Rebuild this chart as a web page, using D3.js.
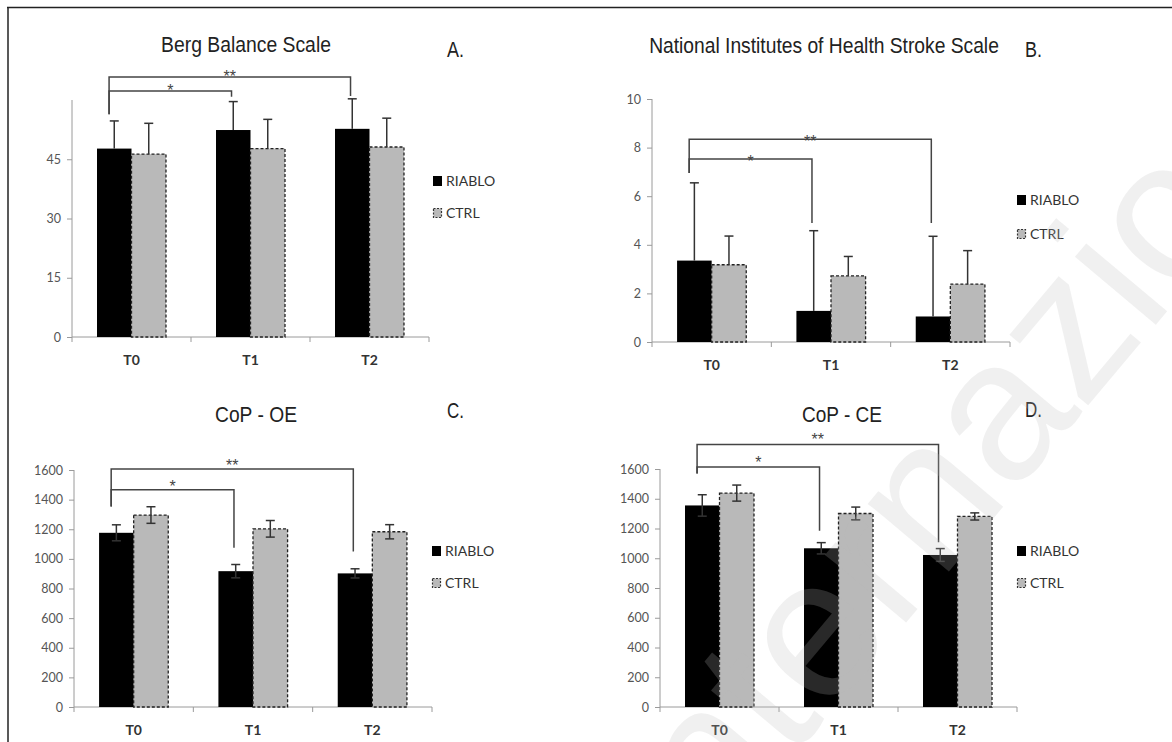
<!DOCTYPE html>
<html>
<head>
<meta charset="utf-8">
<script src="https://cdn.jsdelivr.net/npm/d3@7/dist/d3.min.js"></script>
<style>
  body { margin: 0; background: #fff; }
  svg text { font-family: "Lato", "Liberation Sans", sans-serif; }
</style>
</head>
<body>
<svg id="chart" width="1172" height="742"></svg>
<script>
// categories and series
const categories = ["T0", "T1", "T2"];
const seriesNames = ["RIABLO", "CTRL"];

// A. Berg Balance Scale (mean, upper error)
const bergRiablo = [47.7, 52.4, 52.7];
const bergRiabloErr = [7.0, 7.2, 7.6];
const bergCtrl = [46.3, 47.7, 48.1];
const bergCtrlErr = [7.8, 7.4, 7.3];
const bergTicks = [0, 15, 30, 45];

// B. NIHSS
const nihssRiablo = [3.35, 1.28, 1.05];
const nihssRiabloErr = [3.2, 3.3, 3.3];
const nihssCtrl = [3.18, 2.72, 2.38];
const nihssCtrlErr = [1.18, 0.8, 1.38];
const nihssTicks = [0, 2, 4, 6, 8, 10];

// C. CoP - OE
const oeRiablo = [1176, 917, 902];
const oeRiabloErr = [54, 45, 31];
const oeCtrl = [1296, 1203, 1183];
const oeCtrlErr = [56, 56, 48];

// D. CoP - CE
const ceRiablo = [1355, 1067, 1022];
const ceRiabloErr = [72, 38, 43];
const ceCtrl = [1438, 1301, 1281];
const ceCtrlErr = [54, 43, 24];
const copTicks = [0, 200, 400, 600, 800, 1000, 1200, 1400, 1600];

// significance brackets: target category, bracket level, leg ends (data units)
const bergSig = [
  { to: 1, level: 62.3, leftEnd: 56.4, rightEnd: 60.8, label: "*" },
  { to: 2, level: 65.8, leftEnd: 56.4, rightEnd: 61.0, label: "**" }
];
const nihssSig = [
  { to: 1, level: 7.53, leftEnd: 6.95, rightEnd: 4.9, label: "*" },
  { to: 2, level: 8.34, leftEnd: 6.95, rightEnd: 4.9, label: "**" }
];
const oeSig = [
  { to: 1, level: 1467, leftEnd: 1354, rightEnd: 1075, label: "*" },
  { to: 2, level: 1607, leftEnd: 1354, rightEnd: 1050, label: "**" }
];
const ceSig = [
  { to: 1, level: 1614, leftEnd: 1569, rightEnd: 1185, label: "*" },
  { to: 2, level: 1765, leftEnd: 1569, rightEnd: 1107, label: "**" }
];

const panels = [
  { title: "Berg Balance Scale", letter: "A.", riablo: bergRiablo, riabloErr: bergRiabloErr,
    ctrl: bergCtrl, ctrlErr: bergCtrlErr, twoSided: false, domain: [0, 60], ticks: bergTicks, sig: bergSig,
    x0: 72, x1: 429, yBase: 337, yTop: 100, titleX: 246, titleY: 52, titleW: 170,
    letterX: 447, letterY: 57, legX: 433, legY: [181, 213], starDy: 5 },
  { title: "National Institutes  of Health  Stroke Scale", letter: "B.", riablo: nihssRiablo, riabloErr: nihssRiabloErr,
    ctrl: nihssCtrl, ctrlErr: nihssCtrlErr, twoSided: false, domain: [0, 10], ticks: nihssTicks, sig: nihssSig,
    x0: 652, x1: 1010, yBase: 342, yTop: 99, titleX: 824, titleY: 53, titleW: 350,
    letterX: 1025, letterY: 57, legX: 1017, legY: [200, 234], starDy: 8 },
  { title: "CoP - OE", letter: "C.", riablo: oeRiablo, riabloErr: oeRiabloErr,
    ctrl: oeCtrl, ctrlErr: oeCtrlErr, twoSided: true, domain: [0, 1600], ticks: copTicks, sig: oeSig,
    x0: 74, x1: 432, yBase: 707, yTop: 470, titleX: 256, titleY: 422, titleW: 82,
    letterX: 447, letterY: 418, legX: 432, legY: [551, 583], starDy: 2 },
  { title: "CoP - CE", letter: "D.", riablo: ceRiablo, riabloErr: ceRiabloErr,
    ctrl: ceCtrl, ctrlErr: ceCtrlErr, twoSided: true, domain: [0, 1600], ticks: copTicks, sig: ceSig,
    x0: 660, x1: 1017, yBase: 707, yTop: 469, titleX: 842, titleY: 422, titleW: 80,
    letterX: 1025, letterY: 417, legX: 1017, legY: [551, 583], starDy: 1 }
];

const svg = d3.select("#chart");
const axisColor = "#9a9a9a";
const inkColor = "#333";

// frame (top and left only)
svg.append("line").attr("x1", 7).attr("x2", 1172).attr("y1", 7.5).attr("y2", 7.5)
  .attr("stroke", "#222").attr("stroke-width", 1.5);
svg.append("line").attr("x1", 8).attr("x2", 8).attr("y1", 7).attr("y2", 742)
  .attr("stroke", "#222").attr("stroke-width", 1.5);

// squeeze a text horizontally to a target width
function fitWidth(sel, w, anchorX, baseY) {
  const len = sel.node().getComputedTextLength();
  const k = w / len;
  sel.attr("x", 0).attr("y", 0)
    .attr("transform", `translate(${anchorX},${baseY}) scale(${k},1)`);
}

function drawPanel(p) {
  const g = svg.append("g");
  const x = d3.scaleBand().domain(categories).range([p.x0, p.x1]).padding(0);
  const xs = d3.scaleBand().domain(seriesNames).range([0, x.bandwidth()]).paddingInner(0).paddingOuter(0.725);
  const y = d3.scaleLinear().domain(p.domain).range([p.yBase, p.yTop]);

  // y axis
  const yAxis = g.append("g").attr("transform", `translate(${p.x0},0)`)
    .call(d3.axisLeft(y).tickValues(p.ticks).tickFormat(d3.format("d")).tickSize(5).tickPadding(6));
  yAxis.select(".domain").attr("d", `M0,${p.yBase}V${p.yTop}`);
  yAxis.selectAll("path, line").attr("stroke", axisColor);
  yAxis.selectAll("text").attr("fill", "#555").style("font-size", "12.5px");

  // x axis with boundary ticks
  const xg = g.append("g");
  xg.append("line").attr("x1", p.x0).attr("x2", p.x1).attr("y1", p.yBase).attr("y2", p.yBase)
    .attr("stroke", axisColor);
  const bounds = categories.map(c => x(c)).concat([p.x1]);
  xg.selectAll(".xt").data(bounds).join("line")
    .attr("x1", d => d).attr("x2", d => d).attr("y1", p.yBase).attr("y2", p.yBase + 5)
    .attr("stroke", axisColor);
  xg.selectAll(".xl").data(categories).join("text")
    .attr("x", d => x(d) + x.bandwidth() / 2).attr("y", p.yBase + 28)
    .attr("text-anchor", "middle").attr("fill", "#333")
    .style("font-size", "14px").style("font-weight", "bold").text(d => d);

  const rows = categories.map((c, i) => [
    { cat: c, s: "RIABLO", v: p.riablo[i], e: p.riabloErr[i] },
    { cat: c, s: "CTRL", v: p.ctrl[i], e: p.ctrlErr[i] }
  ]).flat();

  // bars
  g.selectAll(".bar").data(rows).join("rect")
    .attr("x", d => x(d.cat) + xs(d.s))
    .attr("y", d => y(d.v))
    .attr("width", xs.bandwidth())
    .attr("height", d => p.yBase - y(d.v))
    .attr("fill", d => d.s === "RIABLO" ? "#000" : "#b9b9b9")
    .attr("stroke", d => d.s === "RIABLO" ? "none" : "#222")
    .attr("stroke-width", 1.3)
    .attr("stroke-dasharray", d => d.s === "RIABLO" ? null : "3,2");

  // error bars
  const cap = 4.5;
  rows.forEach(d => {
    const cx = x(d.cat) + xs(d.s) + xs.bandwidth() / 2;
    const yt = y(d.v + d.e);
    const yb = p.twoSided ? y(d.v - d.e) : y(d.v);
    g.append("line").attr("x1", cx).attr("x2", cx).attr("y1", yt).attr("y2", yb)
      .attr("stroke", inkColor).attr("stroke-width", 1.5);
    g.append("line").attr("x1", cx - cap).attr("x2", cx + cap).attr("y1", yt).attr("y2", yt)
      .attr("stroke", inkColor).attr("stroke-width", 1.5);
    if (p.twoSided) {
      g.append("line").attr("x1", cx - cap).attr("x2", cx + cap).attr("y1", yb).attr("y2", yb)
        .attr("stroke", inkColor).attr("stroke-width", 1.5);
    }
  });

  // significance brackets
  const bw = xs.bandwidth();
  const left = x(categories[0]) + xs("RIABLO") + bw * 0.35;
  p.sig.forEach(s => {
    const right = x(categories[s.to]) + xs("RIABLO") + bw * 0.45;
    const yl = y(s.level);
    g.append("path")
      .attr("d", `M${left},${y(s.leftEnd)}V${yl}H${right}V${y(s.rightEnd)}`)
      .attr("fill", "none").attr("stroke", "#444").attr("stroke-width", 1.5);
    g.append("text").attr("x", (left + right) / 2).attr("y", yl + p.starDy)
      .attr("text-anchor", "middle").attr("fill", "#444")
      .style("font-family", "'Liberation Sans', Arial, sans-serif")
      .style("font-size", "16px").text(s.label);
  });

  // title and panel letter
  const t = g.append("text").attr("text-anchor", "middle")
    .style("font-family", "'Liberation Sans', Arial, sans-serif").style("font-size", "22px")
    .attr("fill", "#222").text(p.title);
  fitWidth(t, p.titleW, p.titleX, p.titleY);
  const l = g.append("text")
    .style("font-family", "'Liberation Sans', Arial, sans-serif").style("font-size", "22px")
    .attr("fill", "#222").text(p.letter);
  fitWidth(l, 17, p.letterX, p.letterY);

  // legend
  const lg = g.append("g");
  lg.append("rect").attr("x", p.legX).attr("y", p.legY[0] - 5).attr("width", 9).attr("height", 10)
    .attr("fill", "#000");
  lg.append("rect").attr("x", p.legX + 0.5).attr("y", p.legY[1] - 4.5).attr("width", 8).attr("height", 9)
    .attr("fill", "#b9b9b9").attr("stroke", "#333").attr("stroke-width", 1.2).attr("stroke-dasharray", "2,1.5");
  seriesNames.forEach((s, i) => {
    lg.append("text").attr("x", p.legX + 13).attr("y", p.legY[i] + 5)
      .attr("fill", "#333").style("font-size", "14px").text(s);
  });
}

panels.forEach(drawPanel);

// watermark laid over the figure, very faint
svg.append("text")
  .attr("transform", "translate(690,880) rotate(-50)")
  .style("font-family", "'Liberation Sans', Arial, sans-serif")
  .style("font-size", "200px")
  .attr("fill", "#bbb").attr("fill-opacity", 0.22)
  .text("internazionali");
</script>
</body>
</html>
